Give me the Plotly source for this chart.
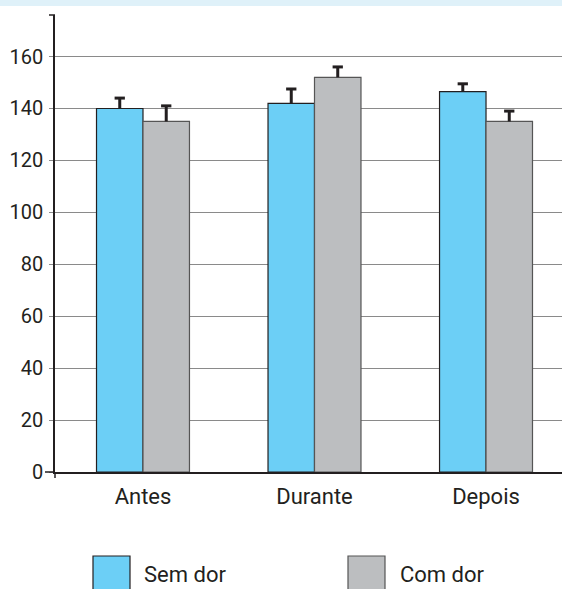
import plotly.graph_objects as go

# Measurements by phase, with and without pain (mean and upper error)
phases = ["Antes", "Durante", "Depois"]
sem_dor = [140, 142, 146.5]
sem_dor_err = [4, 5.5, 3]
com_dor = [135, 152, 135]
com_dor_err = [6, 4, 4]
y_ticks = [0, 20, 40, 60, 80, 100, 120, 140, 160]

FONT = "Roboto, Arial, sans-serif"
INK = "#231f20"
BLUE = "#6ccff6"
GREY = "#bcbec0"

BAR_W = 0.271          # width of one bar in category units
CAP_HALF = 0.03        # half-width of an error-bar cap

x_pos = list(range(len(phases)))

fig = go.Figure()
fig.add_trace(go.Bar(
    x=x_pos, y=sem_dor, name="Sem dor",
    marker=dict(color=BLUE, line=dict(color=INK, width=1.2)),
))
fig.add_trace(go.Bar(
    x=x_pos, y=com_dor, name="Com dor",
    marker=dict(color=GREY, line=dict(color="#555555", width=1.2)),
))


def upper_error(values, errs, offset):
    """One-sided error bars (stem + top cap) as a single line trace."""
    xs, ys = [], []
    for xi, v, e in zip(x_pos, values, errs):
        xc = xi + offset
        xs += [xc, xc, None, xc - CAP_HALF, xc + CAP_HALF, None]
        ys += [v, v + e, None, v + e, v + e, None]
    return go.Scatter(x=xs, y=ys, mode="lines", hoverinfo="skip",
                      line=dict(color=INK, width=3), showlegend=False)


fig.add_trace(upper_error(sem_dor, sem_dor_err, -BAR_W / 2))
fig.add_trace(upper_error(com_dor, com_dor_err, BAR_W / 2))

W, H = 562, 589
L, R, T, B = 55, 0, 15, 117
plot_h = H - T - B
pw = W - L - R

fig.update_layout(
    width=W, height=H,
    margin=dict(l=L, r=R, t=T, b=B),
    paper_bgcolor="white", plot_bgcolor="white",
    barmode="group", bargap=0.458, bargroupgap=0,
    showlegend=False,
    font=dict(family=FONT, size=20, color=INK),
    xaxis=dict(
        range=[-0.513, 2.443], tickmode="array", tickvals=x_pos, ticktext=phases,
        showgrid=False, zeroline=False, showline=True, linecolor=INK, linewidth=1.5,
        ticks="", ticklabelstandoff=4, tickfont=dict(family=FONT, size=22, color=INK),
        fixedrange=True,
    ),
    yaxis=dict(
        range=[0, 176], tickmode="array", tickvals=y_ticks,
        showgrid=True, gridcolor="#8a8a8a", gridwidth=1,
        zeroline=False, showline=True, linecolor=INK, linewidth=1.5,
        ticks="outside", ticklen=4, tickcolor="#8a8a8a", ticklabelstandoff=2,
        tickfont=dict(family=FONT, size=20, color=INK),
        fixedrange=True,
    ),
)


def px_x(x):
    return (x - L) / pw


def px_y(y):
    return (H - B - y) / plot_h


shapes = []
# light band along the top edge
shapes.append(dict(type="rect", xref="paper", yref="paper",
                   x0=px_x(0), x1=1.0, y0=px_y(6), y1=px_y(0),
                   fillcolor="#dff1f9", line=dict(width=0), layer="below"))
# end tick at top of the y axis
shapes.append(dict(type="line", xref="paper", yref="paper",
                   x0=px_x(49), x1=0, y0=1, y1=1,
                   line=dict(color=INK, width=1.5)))
# crossing tick at the origin
shapes.append(dict(type="line", xref="paper", yref="paper",
                   x0=px_x(45), x1=0, y0=0, y1=0,
                   line=dict(color=INK, width=1.5)))
shapes.append(dict(type="line", xref="paper", yref="paper",
                   x0=0, x1=0, y0=px_y(478), y1=0,
                   line=dict(color=INK, width=1.5)))

# legend swatches below the plot
legend_items = [("Sem dor", BLUE, INK, 93, 142), ("Com dor", GREY, "#555555", 348, 398)]
annotations = []
for label, fill, edge, sx, tx in legend_items:
    shapes.append(dict(type="rect", xref="paper", yref="paper",
                       x0=px_x(sx), x1=px_x(sx + 37), y0=px_y(593), y1=px_y(556),
                       fillcolor=fill, line=dict(color=edge, width=1.2)))
    annotations.append(dict(xref="paper", yref="paper", x=px_x(tx), y=px_y(574),
                            text=label, showarrow=False, xanchor="left", yanchor="middle",
                            font=dict(family=FONT, size=22, color=INK)))

fig.update_layout(shapes=shapes, annotations=annotations)

fig.write_html("out.html")
